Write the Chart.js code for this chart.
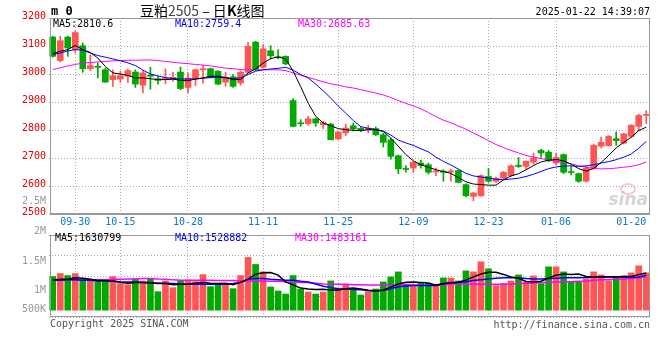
<!DOCTYPE html>
<html>
<head>
<meta charset="utf-8">
<script src="https://cdn.jsdelivr.net/npm/chart.js@4.4.1/dist/chart.umd.min.js"></script>
<style>
  body { margin: 0; background: #fff; }
  #wrap { position: relative; width: 660px; height: 360px; overflow: hidden; background: #fff; }
  canvas { position: absolute; left: 0; }
  .t { position: absolute; font: 10px 'DejaVu Sans Mono', monospace; line-height: 12px; white-space: pre; }
  .ax { color: #999; text-align: right; right: 614px; }
</style>
</head>
<body>
<div id="wrap">
  <canvas id="price" width="660" height="232" style="top:0"></canvas>
  <canvas id="vol" width="660" height="95" style="top:230px"></canvas>

  <div class="t" style="left:51px;top:5px;font-weight:bold;font-size:12px;line-height:13px">m 0</div>
  <div class="t" style="left:140px;top:2px;font:14px 'Noto Sans CJK SC',sans-serif;line-height:17px;color:#000">豆粕<span style="color:#444">2505</span> – 日<b>K</b>线图</div>
  <div class="t" style="right:10px;top:6px;color:#000">2025-01-22 14:39:07</div>

  <div class="t" id="pm5" style="left:53px;top:18px;color:#000"></div>
  <div class="t" id="pm10" style="left:175px;top:18px;color:#0000ee"></div>
  <div class="t" id="pm30" style="left:298px;top:18px;color:#ff00ff"></div>

  <div class="t" id="vm5" style="left:55px;top:232px;color:#000"></div>
  <div class="t" id="vm10" style="left:175px;top:232px;color:#0000ee"></div>
  <div class="t" id="vm30" style="left:295px;top:232px;color:#ff00ff"></div>

  <div class="t ax" style="top:195px">2.5M</div>
  <div class="t ax" style="top:225px">2M</div>
  <div class="t ax" style="top:255px">1.5M</div>
  <div class="t ax" style="top:284px">1M</div>
  <div class="t ax" style="top:303px">500K</div>

  <div class="t" style="left:50px;top:318px;color:#555">Copyright 2025 SINA.COM</div>
  <div class="t" style="right:10px;top:319px;color:#555">http://finance.sina.com.cn</div>
</div>
<script>
// 交易日
const dates = [
  '09-25','09-26','09-27','09-30','10-08','10-09','10-10','10-11','10-14','10-15',
  '10-16','10-17','10-18','10-21','10-22','10-23','10-24','10-25','10-28','10-29',
  '10-30','10-31','11-01','11-04','11-05','11-06','11-07','11-08','11-11','11-12',
  '11-13','11-14','11-15','11-18','11-19','11-20','11-21','11-22','11-25','11-26',
  '11-27','11-28','11-29','12-02','12-03','12-04','12-05','12-06','12-09','12-10',
  '12-11','12-12','12-13','12-16','12-17','12-18','12-19','12-20','12-23','12-24',
  '12-25','12-26','12-27','12-30','12-31','01-02','01-03','01-06','01-07','01-08',
  '01-09','01-10','01-13','01-14','01-15','01-16','01-17','01-20','01-21','01-22'
];
const tickDates = ['09-30','10-15','10-28','11-11','11-25','12-09','12-23','01-06','01-20'];
const noGridDates = ['01-20'];

// K线
const open = [
  3132,3048,3132,3087,3101,3019,3025,3015,2980,2982,
  2992,3007,2960,2996,2983,2982,2980,3007,2952,2983,
  3015,3019,3010,2971,2990,2968,3006,3114,3024,3083,
  3061,3063,2905,2824,2823,2840,2819,2821,2768,2790,
  2815,2806,2801,2805,2783,2765,2708,2662,2664,2682,
  2676,2650,2651,2650,2655,2605,2563,2565,2634,2617,
  2628,2637,2674,2670,2685,2727,2721,2682,2712,2651,
  2644,2617,2664,2742,2744,2769,2753,2777,2813,2852
];
const high = [
  3135,3135,3135,3155,3111,3069,3039,3021,3015,3010,
  3018,3015,3012,3024,2992,3018,3006,3025,3004,3018,
  3030,3021,3012,3007,2998,3012,3113,3117,3105,3101,
  3087,3065,2912,2837,2849,2843,2831,2824,2795,2821,
  2825,2811,2817,2811,2789,2771,2711,2673,2687,2692,
  2682,2664,2658,2660,2658,2608,2577,2640,2662,2632,
  2652,2676,2702,2690,2718,2732,2727,2718,2715,2670,
  2646,2670,2750,2775,2780,2793,2789,2819,2857,2869
];
const low = [
  3060,3043,3063,3075,3006,3013,2986,2970,2956,2970,
  2970,2952,2932,2946,2964,2965,2974,2944,2932,2958,
  2967,2986,2962,2956,2952,2960,3004,3012,3021,3054,
  3054,3033,2811,2813,2817,2813,2805,2765,2765,2780,
  2796,2794,2790,2780,2739,2696,2644,2649,2649,2664,
  2643,2637,2617,2617,2611,2561,2547,2563,2613,2613,
  2625,2634,2666,2662,2678,2702,2686,2676,2644,2640,
  2613,2615,2660,2736,2742,2745,2750,2774,2797,2823
];
const close = [
  3063,3119,3093,3148,3019,3030,3024,2971,2994,2994,
  3012,2964,3004,2992,2977,2986,2988,2948,2986,3015,
  3019,2988,2964,2988,2956,3006,3099,3015,3090,3065,
  3058,3036,2813,2822,2840,2825,2827,2765,2793,2807,
  2804,2798,2807,2783,2756,2706,2661,2659,2685,2673,
  2649,2653,2649,2654,2613,2565,2575,2637,2617,2628,
  2649,2672,2670,2688,2700,2718,2690,2702,2649,2648,
  2617,2664,2745,2756,2777,2762,2786,2817,2852,2856
];

// 均线
const ma5 = [
  3073,3081,3087,3102,3087,3077,3057,3027,3004,3000,
  2995,2986,2986,2983,2980,2980,2982,2977,2976,2982,
  2986,2992,2992,2988,2980,2980,3004,3018,3039,3055,
  3061,3054,3010,2955,2896,2849,2825,2815,2805,2801,
  2799,2798,2801,2801,2795,2771,2742,2712,2690,2676,
  2667,2658,2652,2645,2630,2615,2607,2605,2603,2603,
  2622,2636,2644,2658,2673,2686,2692,2695,2690,2678,
  2662,2653,2663,2684,2709,2736,2756,2774,2798,2810
];
const ma10 = [
  3069,3075,3082,3087,3085,3075,3066,3060,3054,3047,
  3040,3030,3014,3000,2993,2987,2984,2982,2982,2982,
  2985,2987,2988,2986,2984,2986,2998,3010,3015,3018,
  3020,3024,3014,2998,2986,2964,2940,2914,2886,2860,
  2834,2812,2806,2802,2796,2782,2764,2754,2745,2733,
  2722,2703,2688,2675,2660,2645,2636,2632,2628,2624,
  2622,2625,2628,2634,2642,2652,2662,2668,2671,2672,
  2670,2672,2676,2682,2687,2694,2703,2714,2735,2759
];
const ma30 = [
  3016,3022,3029,3034,3039,3041,3043,3045,3047,3048,
  3049,3049,3050,3050,3048,3045,3042,3039,3037,3034,
  3032,3029,3025,3021,3019,3016,3015,3015,3015,3015,
  3015,3012,3004,2996,2988,2980,2972,2965,2960,2954,
  2950,2944,2938,2932,2925,2916,2905,2895,2886,2876,
  2862,2848,2835,2826,2814,2803,2789,2776,2762,2748,
  2737,2727,2718,2709,2703,2698,2693,2689,2684,2679,
  2672,2667,2663,2661,2662,2664,2667,2670,2676,2686
];
const priceLabels = ['MA5:2810.6', 'MA10:2759.4', 'MA30:2685.63'];

// 成交量
const volume = [
  1475000,1608000,1519000,1608000,1327000,1357000,1254000,1327000,1475000,1165000,
  1121000,1386000,1283000,1386000,811000,1283000,988000,1298000,1327000,1254000,
  1563000,1032000,1136000,1180000,944000,1519000,2316000,2006000,1681000,1018000,
  841000,708000,1519000,929000,796000,708000,796000,1283000,973000,1136000,
  929000,664000,811000,929000,1239000,1460000,1681000,1106000,1077000,1209000,
  1180000,1077000,1416000,1416000,1283000,1726000,1681000,2124000,1814000,1077000,
  1165000,1283000,1549000,1239000,1504000,1165000,1903000,1903000,1681000,1254000,
  1254000,1372000,1681000,1549000,1283000,1431000,1504000,1637000,1947000,1637000
];
const vma5 = [
  1330000,1360000,1360000,1420000,1400000,1360000,1300000,1300000,1280000,1220000,
  1180000,1210000,1210000,1190000,1170000,1170000,1120000,1140000,1150000,1180000,
  1210000,1180000,1170000,1180000,1120000,1220000,1360000,1580000,1640000,1650000,
  1540000,1240000,1110000,970000,930000,910000,920000,880000,890000,940000,
  970000,930000,870000,850000,890000,1010000,1150000,1230000,1240000,1220000,
  1190000,1100000,1160000,1190000,1230000,1320000,1460000,1590000,1660000,1660000,
  1570000,1460000,1400000,1260000,1240000,1270000,1410000,1530000,1590000,1570000,
  1590000,1480000,1440000,1460000,1460000,1460000,1480000,1480000,1560000,1630000
];
const vma10 = [
  1310000,1310000,1330000,1330000,1310000,1310000,1280000,1280000,1270000,1250000,
  1240000,1240000,1220000,1210000,1180000,1180000,1170000,1150000,1140000,1140000,
  1140000,1140000,1140000,1140000,1170000,1220000,1360000,1390000,1390000,1360000,
  1340000,1310000,1310000,1270000,1240000,1150000,1050000,990000,940000,930000,
  910000,900000,860000,830000,860000,940000,1030000,1060000,1080000,1080000,
  1080000,1080000,1170000,1210000,1220000,1250000,1300000,1340000,1370000,1400000,
  1420000,1420000,1420000,1390000,1370000,1370000,1390000,1400000,1420000,1420000,
  1420000,1430000,1450000,1470000,1470000,1470000,1460000,1450000,1460000,1530000
];
const vma30 = [
  1310000,1310000,1330000,1330000,1340000,1340000,1340000,1340000,1360000,1360000,
  1370000,1370000,1390000,1390000,1370000,1360000,1330000,1310000,1310000,1310000,
  1310000,1310000,1300000,1300000,1300000,1280000,1280000,1280000,1280000,1270000,
  1270000,1250000,1240000,1220000,1210000,1180000,1150000,1140000,1140000,1140000,
  1120000,1120000,1110000,1110000,1110000,1110000,1120000,1140000,1120000,1110000,
  1090000,1090000,1110000,1150000,1150000,1150000,1150000,1140000,1140000,1140000,
  1140000,1150000,1170000,1180000,1190000,1210000,1220000,1240000,1250000,1250000,
  1270000,1280000,1310000,1330000,1340000,1360000,1370000,1390000,1420000,1480000
];
const volLabels = ['MA5:1630799', 'MA10:1528882', 'MA30:1483161'];

document.getElementById('pm5').textContent = priceLabels[0];
document.getElementById('pm10').textContent = priceLabels[1];
document.getElementById('pm30').textContent = priceLabels[2];
document.getElementById('vm5').textContent = volLabels[0];
document.getElementById('vm10').textContent = volLabels[1];
document.getElementById('vm30').textContent = volLabels[2];

const UP = '#ff5555';
const DOWN = '#00a800';
const barColor = dates.map((d, i) => close[i] >= open[i] ? UP : DOWN);
const GRID = '#aaaaaa';

Chart.defaults.font.family = "'DejaVu Sans Mono', monospace";
Chart.defaults.font.size = 10;
Chart.defaults.animation = false;
Chart.defaults.plugins.legend.display = false;
Chart.defaults.plugins.tooltip.enabled = false;

// 外框
function framePlugin(thickBottom) {
  return {
    id: 'frame',
    afterDatasetsDraw(chart) {
      const { ctx, chartArea: a } = chart;
      ctx.save();
      ctx.strokeStyle = '#999';
      ctx.lineWidth = 1;
      ctx.strokeRect(Math.round(a.left) + 1.5, Math.round(a.top) + 0.5,
        Math.round(a.right - a.left) - 2, Math.round(a.bottom - a.top) - 1);
      if (thickBottom) {
        ctx.beginPath();
        ctx.moveTo(Math.round(a.left) + 1, Math.round(a.bottom) + 0.5);
        ctx.lineTo(Math.round(a.right), Math.round(a.bottom) + 0.5);
        ctx.stroke();
      }
      ctx.restore();
    }
  };
}

const watermark = {
  id: 'watermark',
  beforeDatasetsDraw(chart) {
    const { ctx, chartArea: a } = chart;
    ctx.save();
    ctx.strokeStyle = 'rgba(240,140,140,0.45)';
    ctx.lineWidth = 2;
    ctx.beginPath();
    ctx.ellipse(a.right - 22, a.bottom - 25, 7, 5, 0, 0, Math.PI * 2);
    ctx.stroke();
    ctx.fillStyle = 'rgba(185,185,185,0.6)';
    ctx.font = 'italic bold 17px "DejaVu Sans", sans-serif';
    ctx.textAlign = 'right';
    ctx.fillText('sina', a.right - 2, a.bottom - 9);
    ctx.restore();
  }
};

function xAxis(showLabels) {
  return {
    type: 'category',
    offset: true,
    afterBuildTicks: s => { s.ticks = s.ticks.filter(t => tickDates.includes(dates[t.value])); },
    afterFit: s => { s.height = showLabels ? 18 : 0; },
    ticks: { display: showLabels, autoSkip: false, maxRotation: 0, color: '#0a78cc', padding: 2 },
    grid: {
      offset: false, drawTicks: false, lineWidth: 1,
      color: c => (c.tick && noGridDates.includes(dates[c.tick.value])) ? 'rgba(0,0,0,0)' : GRID
    },
    border: { display: false, dash: [1, 2] }
  };
}

function maLine(data, color, width) {
  return { type: 'line', data, borderColor: color, borderWidth: width, pointRadius: 0, fill: false, order: 0 };
}

// 日K
new Chart(document.getElementById('price'), {
  type: 'bar',
  data: {
    labels: dates,
    datasets: [
      maLine(ma5, '#000000', 1),
      maLine(ma10, '#0000ff', 1),
      maLine(ma30, '#ff00ff', 1),
      {
        data: dates.map((d, i) => [open[i], close[i]]),
        backgroundColor: barColor, barThickness: 6, minBarLength: 1, grouped: false, order: 1
      },
      {
        data: dates.map((d, i) => [low[i], high[i]]),
        backgroundColor: barColor, barThickness: 1, grouped: false, order: 2
      }
    ]
  },
  options: {
    responsive: false,
    layout: { padding: { left: 0, right: 10, top: 18, bottom: 0 } },
    scales: {
      x: xAxis(true),
      y: {
        min: 2500, max: 3200,
        afterFit: s => { s.width = 49; },
        ticks: { stepSize: 100, color: '#e00000', padding: 3, labelOffset: -2, callback: v => String(v) },
        grid: { drawTicks: false, color: GRID },
        border: { display: false, dash: [1, 2] }
      }
    }
  },
  plugins: [watermark, framePlugin(true)]
});

// 成交量
new Chart(document.getElementById('vol'), {
  type: 'bar',
  data: {
    labels: dates,
    datasets: [
      maLine(vma5, '#000000', 1.5),
      maLine(vma10, '#0000ff', 1.5),
      maLine(vma30, '#ff00ff', 1.5),
      {
        data: volume.map(v => [0, v]),
        backgroundColor: barColor, barThickness: 6, grouped: false, order: 1
      }
    ]
  },
  options: {
    responsive: false,
    layout: { padding: { left: 0, right: 10, top: 5, bottom: 8 } },
    scales: {
      x: xAxis(false),
      y: {
        min: -300000, max: 3300000,
        afterFit: s => { s.width = 49; },
        afterBuildTicks: s => {
          s.ticks = [-300000, 600000, 1500000, 2400000, 3300000].map(v => ({ value: v }));
        },
        ticks: { display: false },
        grid: { drawTicks: false, color: GRID },
        border: { display: false, dash: [1, 2] }
      }
    }
  },
  plugins: [framePlugin(false)]
});
</script>
</body>
</html>
